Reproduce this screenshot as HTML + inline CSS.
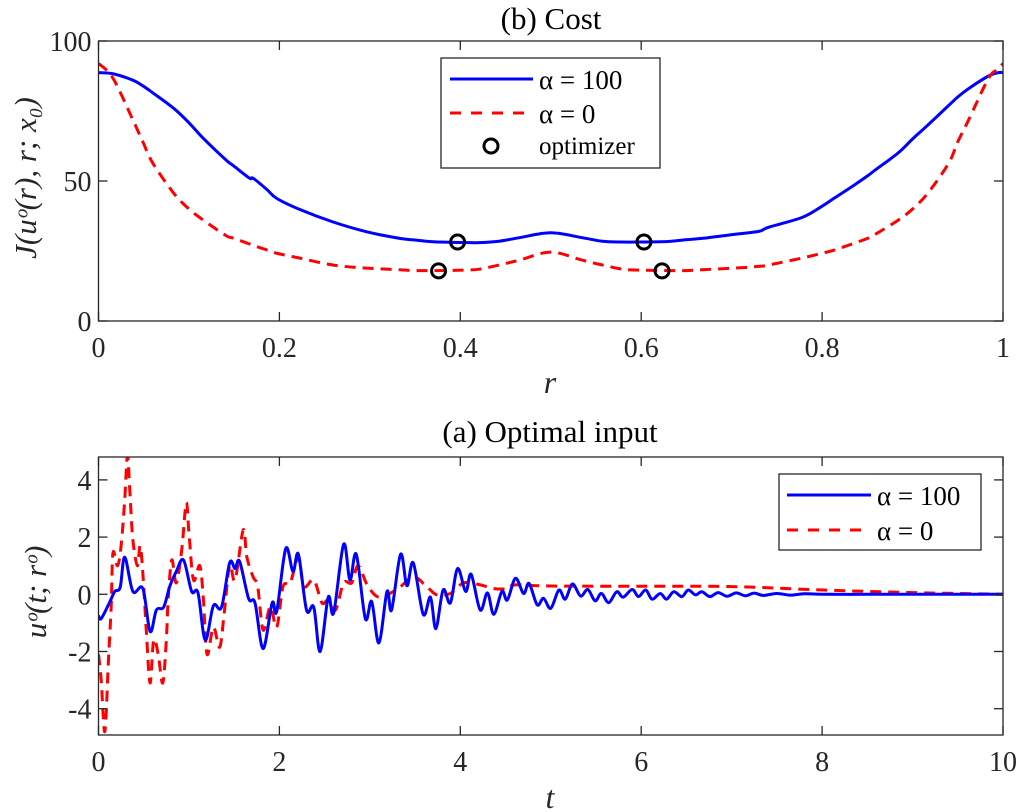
<!DOCTYPE html>
<html><head><meta charset="utf-8"><style>
body{margin:0;background:#fff;}
svg{display:block;font-family:"Liberation Serif",serif;}
</style></head><body>
<svg id="fig" width="1020" height="812" viewBox="0 0 1020 812">
<rect width="1020" height="812" fill="#fff"/>
<g id="top"></g>
<g id="bot"></g>
</svg>
<script>
// ---- Cost chart data ----
const costR = [0,0.016,0.038,0.049,0.06,0.083,0.1,0.116,0.141,0.149,0.167,0.171,0.186,0.197,0.222,0.259,0.296,0.333,0.351,0.37,0.407,0.421,0.443,0.466,0.5,0.534,0.557,0.579,0.593,0.63,0.649,0.667,0.704,0.73,0.741,0.778,0.8,0.814,0.833,0.851,0.859,0.884,0.9,0.917,0.94,0.95,0.962,0.984,0.995,1];
const costBlue = [88.7,88.3,86,84,81.5,76,70.8,65.2,57.5,55.5,51,51,47,43.8,39.9,35.4,31.9,29.5,28.9,28.3,28,28,28.5,29.8,31.5,29.8,28.5,28.2,28.2,28.4,29,29.5,31,32,33.5,37,41,44,48,52,54,60,65,70,77,80,83,87.5,88.7,88.7];
const costRed = [92,86.7,71.8,64,56.4,45.7,40,36,30.5,29.6,27.5,27,25.4,24.2,22.5,20,18.9,18.3,18,18,18.2,18.5,20,21.8,24.6,21.8,20,18.5,18.2,18,18,18.3,18.9,19.5,20,22.5,24.2,25.4,27.5,29.6,31,36,40,45.7,56.4,64,71.8,86.7,90,92];
const optR = [0.397,0.603,0.376,0.623];
const optJ = [28.2,28.2,17.9,17.9];
const costYTicks = [0,50,100];
const costXTicks = [0,0.2,0.4,0.6,0.8,1];
const costXLabels = ["0","0.2","0.4","0.6","0.8","1"];
// ---- Optimal input data ----
const tBlue = [0,0.03,0.12,0.18,0.24,0.29,0.38,0.49,0.57,0.64,0.72,0.79,0.86,0.94,1.03,1.10,1.18,1.27,1.36,1.45,1.51,1.56,1.66,1.73,1.82,1.92,1.97,2.07,2.15,2.21,2.30,2.38,2.45,2.54,2.60,2.71,2.78,2.85,2.95,3.02,3.10,3.19,3.24,3.34,3.41,3.48,3.59,3.67,3.73,3.81,3.89,3.97,4.06,4.12,4.22,4.30,4.37,4.46,4.52,4.61,4.70,4.76,4.85,4.92,5.0,5.09,5.16,5.24,5.33,5.41,5.49,5.56,5.64,5.73,5.80,5.90,5.97,6.05,6.12,6.21,6.28,6.36,6.45,6.52,6.60,6.67,6.76,6.85,6.95,7.05,7.15,7.25,7.35,7.5,7.65,7.8,8.0,8.5,9,10];
const uBlue = [-0.75,-0.85,-0.3,0.1,0.25,1.3,0.1,0.2,-1.3,-0.55,-0.45,0.3,0.8,1.2,0.1,0.05,-1.6,-0.4,-0.45,1.1,0.9,1.15,-0.15,-0.3,-1.9,-0.3,-0.6,1.6,0.8,1.4,-0.55,-0.45,-2.0,-0.1,-0.65,1.75,0.5,1.4,-0.85,-0.25,-1.7,0.1,-0.55,1.4,0.3,1.1,-0.7,-0.1,-1.2,0.15,-0.3,0.9,0.1,0.7,-0.55,0.05,-0.7,0.1,-0.2,0.56,0.03,0.38,-0.37,-0.14,-0.49,0.15,-0.17,0.36,-0.06,0.17,-0.23,0.03,-0.29,0.09,-0.1,0.17,-0.08,0.15,-0.17,0.03,-0.17,0.09,-0.08,0.15,-0.02,0.09,-0.08,0.06,-0.07,0.05,-0.05,0.04,-0.04,0.03,-0.03,0.02,0,0,0,0];
const tRed = [0,0.03,0.07,0.11,0.14,0.16,0.21,0.25,0.29,0.32,0.35,0.38,0.43,0.46,0.49,0.53,0.57,0.61,0.66,0.71,0.75,0.77,0.81,0.86,0.92,0.97,1.0,1.05,1.12,1.16,1.20,1.27,1.34,1.39,1.45,1.51,1.6,1.64,1.71,1.76,1.82,1.90,1.97,2.04,2.12,2.21,2.27,2.38,2.47,2.54,2.62,2.71,2.80,2.87,2.97,3.08,3.19,3.34,3.48,3.61,3.74,3.89,4.04,4.22,4.37,4.52,4.61,5.0,6.0,7.0,8.0,9.0,10];
const uRed = [-2.1,-3.0,-4.8,-2.3,-0.43,1.45,1.0,1.7,3.3,4.85,3.4,1.9,1.0,1.7,0.75,-1.35,-3.1,-1.6,-2.1,-3.1,-1.6,-0.2,1.2,0.4,1.55,3.2,2.15,0.5,1.0,-0.2,-2.1,-1.15,-1.85,-0.65,1.0,0.5,2.25,1.3,0.6,0.27,-1.25,-0.43,-1.15,0.27,0.4,1.3,0.27,0.5,-0.3,-0.2,-0.55,0.4,0.4,1.0,0.33,-0.08,-0.02,0.27,0.62,0.33,-0.02,0.03,0.4,0.33,0.2,0.2,0.33,0.29,0.28,0.27,0.15,0.06,0];
const inYTicks = [-4,-2,0,2,4];
const inXTicks = [0,2,4,6,8,10];

const NS="http://www.w3.org/2000/svg";
function mk(parent,tag,attrs,text){const e=document.createElementNS(NS,tag);for(const k in attrs)e.setAttribute(k,attrs[k]);if(text!==undefined)e.textContent=text;parent.appendChild(e);return e;}
function pathD(xs,ys,sx,sy){
  const P=xs.map((x,i)=>[sx(x),sy(ys[i])]);
  let d='M'+P[0][0].toFixed(2)+','+P[0][1].toFixed(2);
  for(let i=0;i<P.length-1;i++){
    const p0=P[Math.max(0,i-1)],p1=P[i],p2=P[i+1],p3=P[Math.min(P.length-1,i+2)];
    const c1x=p1[0]+(p2[0]-p0[0])/6,c1y=p1[1]+(p2[1]-p0[1])/6;
    const c2x=p2[0]-(p3[0]-p1[0])/6,c2y=p2[1]-(p3[1]-p1[1])/6;
    d+=' C'+c1x.toFixed(2)+','+c1y.toFixed(2)+' '+c2x.toFixed(2)+','+c2y.toFixed(2)+' '+p2[0].toFixed(2)+','+p2[1].toFixed(2);
  }
  return d;
}
const TF=28;

(function(){
const g=document.getElementById('top');
const L=98.5,R=1003,T=41,B=321;
const sx=r=>L+(R-L)*r, sy=v=>B-(B-T)*v/100;
const defs=mk(g,'clipPath',{id:'c1'});mk(defs,'rect',{x:L,y:T,width:R-L,height:B-T});
let e=mk(g,'path',{d:pathD(costR,costBlue,sx,sy),fill:'none',stroke:'#0000ff','stroke-width':3,'clip-path':'url(#c1)'});

e=mk(g,'path',{d:pathD(costR,costRed,sx,sy),fill:'none',stroke:'#ff0000','stroke-width':3,'stroke-dasharray':'11 7','clip-path':'url(#c1)'});

optR.forEach((r,i)=>{const c=mk(g,'circle',{cx:sx(r),cy:sy(optJ[i]),r:7,fill:'none',stroke:'#000','stroke-width':3});
});
e=mk(g,'rect',{x:L,y:T,width:R-L,height:B-T,fill:'none',stroke:'#262626','stroke-width':1.3});

costXTicks.forEach((t,i)=>{const x=sx(t);mk(g,'line',{x1:x,x2:x,y1:B,y2:B-9,stroke:'#262626','stroke-width':1.3});mk(g,'line',{x1:x,x2:x,y1:T,y2:T+9,stroke:'#262626','stroke-width':1.3});
const tx=mk(g,'text',{x:x,y:B+36,'text-anchor':'middle','font-size':TF,fill:'#262626'},costXLabels[i]);
});
costYTicks.forEach(v=>{const y=sy(v);mk(g,'line',{x1:L,x2:L+9,y1:y,y2:y,stroke:'#262626','stroke-width':1.3});mk(g,'line',{x1:R,x2:R-9,y1:y,y2:y,stroke:'#262626','stroke-width':1.3});
const tx=mk(g,'text',{x:L-7,y:y+10,'text-anchor':'end','font-size':TF,fill:'#262626'},String(v));
});
e=mk(g,'text',{x:551,y:29,'text-anchor':'middle','font-size':31,fill:'#000'},'(b) Cost');

e=mk(g,'text',{x:550,y:393,'text-anchor':'middle','font-size':32,'font-style':'italic',fill:'#262626'},'r');

e=mk(g,'text',{x:0,y:0,'text-anchor':'middle','font-size':31,'font-style':'italic',fill:'#262626',transform:'translate(36,178) rotate(-90)'},'J(uᵒ(r), r; x₀)');

const lg=mk(g,'g',{});
mk(lg,'rect',{x:441,y:58,width:219,height:110,fill:'#fff',stroke:'#262626','stroke-width':1.3});
mk(lg,'line',{x1:450,x2:533,y1:79,y2:79,stroke:'#0000ff','stroke-width':3});
mk(lg,'line',{x1:450,x2:533,y1:113,y2:113,stroke:'#ff0000','stroke-width':3,'stroke-dasharray':'11 10'});
mk(lg,'circle',{cx:491,cy:146,r:7,fill:'none',stroke:'#000','stroke-width':3});
mk(lg,'text',{x:539,y:89,'font-size':27},'α = 100');
mk(lg,'text',{x:539,y:123,'font-size':27},'α = 0');
mk(lg,'text',{x:539,y:154,'font-size':25},'optimizer');
})();

(function(){
const g=document.getElementById('bot');
const L=98.5,R=1003,T=457,B=735;
const sx=t=>L+(R-L)*t/10, sy=v=>594.3-28.6*v;
const defs=mk(g,'clipPath',{id:'c2'});mk(defs,'rect',{x:L,y:T,width:R-L,height:B-T});
let e=mk(g,'path',{d:pathD(tRed,uRed,sx,sy),fill:'none',stroke:'#ff0000','stroke-width':3,'stroke-dasharray':'11 7','clip-path':'url(#c2)'});

e=mk(g,'path',{d:pathD(tBlue,uBlue,sx,sy),fill:'none',stroke:'#0000ff','stroke-width':3,'stroke-linejoin':'round','clip-path':'url(#c2)'});

e=mk(g,'rect',{x:L,y:T,width:R-L,height:B-T,fill:'none',stroke:'#262626','stroke-width':1.3});

inXTicks.forEach(t=>{const x=sx(t);mk(g,'line',{x1:x,x2:x,y1:B,y2:B-9,stroke:'#262626','stroke-width':1.3});mk(g,'line',{x1:x,x2:x,y1:T,y2:T+9,stroke:'#262626','stroke-width':1.3});
const tx=mk(g,'text',{x:x,y:B+36,'text-anchor':'middle','font-size':TF,fill:'#262626'},String(t));
});
inYTicks.forEach(v=>{const y=sy(v);mk(g,'line',{x1:L,x2:L+9,y1:y,y2:y,stroke:'#262626','stroke-width':1.3});mk(g,'line',{x1:R,x2:R-9,y1:y,y2:y,stroke:'#262626','stroke-width':1.3});
const tx=mk(g,'text',{x:L-7,y:y+10,'text-anchor':'end','font-size':TF,fill:'#262626'},String(v));
});
e=mk(g,'text',{x:550,y:442,'text-anchor':'middle','font-size':31,fill:'#000'},'(a) Optimal input');

e=mk(g,'text',{x:550,y:808,'text-anchor':'middle','font-size':32,'font-style':'italic',fill:'#262626'},'t');

e=mk(g,'text',{x:0,y:0,'text-anchor':'middle','font-size':31,'font-style':'italic',fill:'#262626',transform:'translate(46,592) rotate(-90)'},'uᵒ(t; rᵒ)');

const lg=mk(g,'g',{});
mk(lg,'rect',{x:779,y:474,width:202,height:76,fill:'#fff',stroke:'#262626','stroke-width':1.3});
mk(lg,'line',{x1:787,x2:871,y1:495,y2:495,stroke:'#0000ff','stroke-width':3});
mk(lg,'line',{x1:787,x2:871,y1:530,y2:530,stroke:'#ff0000','stroke-width':3,'stroke-dasharray':'11 10'});
mk(lg,'text',{x:877,y:505,'font-size':27},'α = 100');
mk(lg,'text',{x:877,y:540,'font-size':27},'α = 0');
})();
</script>
</body></html>
